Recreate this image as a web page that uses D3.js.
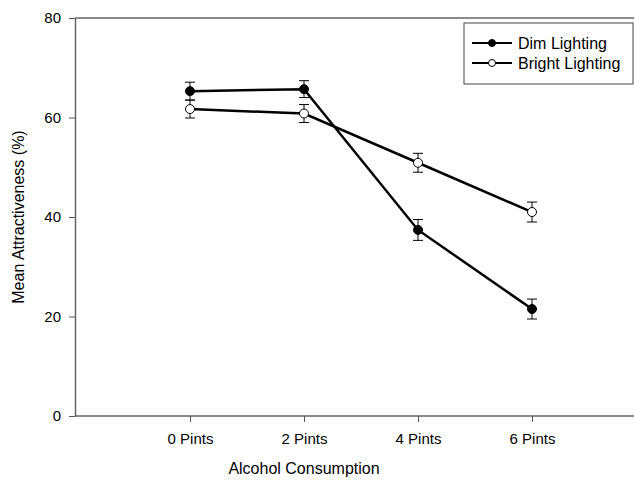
<!DOCTYPE html>
<html>
<head>
<meta charset="utf-8">
<script src="https://cdn.jsdelivr.net/npm/d3@7"></script>
<style>
	body { margin: 0; background: #fff; }
	text { font-family: "Liberation Sans", Arial, sans-serif; fill: #000; }
</style>
</head>
<body>
<script>

var categories = ['0 Pints', '2 Pints', '4 Pints', '6 Pints'];
var dimMean = [65.3, 65.7, 37.4, 21.5];
var dimErr = [1.8, 1.7, 2.1, 2.0];
var brightMean = [61.7, 60.8, 50.9, 41.0];
var brightErr = [1.8, 1.8, 1.9, 2.0];
var yTicks = [0, 20, 40, 60, 80];

(function() {

	var width = 635;
	var height = 481;
	var pLeft = 75, pRight = 634, pTop = 18, pBottom = 416;

	var svg = d3.select('body')
		.append('svg')
			.attr('width', width)
			.attr('height', height);

	var x = d3.scalePoint()
		.domain(categories)
		.range([190, 532]);

	var y = d3.scaleLinear()
		.domain([0, 80])
		.range([pBottom, pTop]);

	// frame top line
	svg.append('line')
		.attr('x1', pLeft).attr('x2', pRight)
		.attr('y1', pTop).attr('y2', pTop)
		.style('stroke', '#666')
		.style('stroke-width', 1.5);

	// y axis
	svg.append('g')
		.attr('transform', 'translate(' + pLeft + ',0)')
		.call(d3.axisLeft(y).tickValues(yTicks).tickSize(6).tickPadding(8).tickSizeOuter(0));

	// x axis
	var xAxis = svg.append('g')
		.attr('transform', 'translate(0,' + pBottom + ')')
		.call(d3.axisBottom(x).tickSize(6).tickPadding(11).tickSizeOuter(0));

	// stretch x axis line across full width
	xAxis.select('.domain').attr('d', 'M' + pLeft + ',0H' + pRight);

	svg.selectAll('.domain')
		.style('stroke', '#666')
		.style('stroke-width', 1.5);
	svg.selectAll('.tick line')
		.style('stroke', '#555');
	svg.selectAll('.tick text')
		.style('font-size', '15px')
		.style('font-family', '"Liberation Sans", Arial, sans-serif')
		.style('fill', '#000');

	// axis titles
	svg.append('text')
		.attr('x', 304)
		.attr('y', 474)
		.attr('text-anchor', 'middle')
		.style('font-size', '16px')
		.text('Alcohol Consumption');

	svg.append('text')
		.attr('transform', 'translate(24,' + ((pTop + pBottom) / 2) + ') rotate(-90)')
		.attr('text-anchor', 'middle')
		.style('font-size', '16px')
		.text('Mean Attractiveness (%)');

	var line = d3.line()
		.x(function(d, i) { return x(categories[i]); })
		.y(function(d) { return y(d); });

	function series(means, errs, fill) {
		var g = svg.append('g');

		g.append('path')
			.datum(means)
			.attr('d', line)
			.style('fill', 'none')
			.style('stroke', '#000')
			.style('stroke-width', 2.5);

		means.forEach(function(m, i) {
			var cx = x(categories[i]);
			var capW = 5;
			g.append('line')
				.attr('x1', cx).attr('x2', cx)
				.attr('y1', y(m - errs[i])).attr('y2', y(m + errs[i]))
				.style('stroke', '#000').style('stroke-width', 1);
			[m - errs[i], m + errs[i]].forEach(function(v) {
				g.append('line')
					.attr('x1', cx - capW).attr('x2', cx + capW)
					.attr('y1', y(v)).attr('y2', y(v))
					.style('stroke', '#000').style('stroke-width', 1);
			});
			g.append('circle')
				.attr('cx', cx)
				.attr('cy', y(m))
				.attr('r', 4.5)
				.style('fill', fill)
				.style('stroke', '#000')
				.style('stroke-width', 1);
		});
	}

	series(brightMean, brightErr, '#fff');
	series(dimMean, dimErr, '#000');

	// legend
	var legend = svg.append('g');
	legend.append('rect')
		.attr('x', 464).attr('y', 23)
		.attr('width', 169).attr('height', 61)
		.style('fill', '#fff')
		.style('stroke', '#444')
		.style('stroke-width', 1);

	var legendItems = [
		{ label: 'Dim Lighting', fill: '#000', y: 43 },
		{ label: 'Bright Lighting', fill: '#fff', y: 63 }
	];

	legendItems.forEach(function(d) {
		legend.append('line')
			.attr('x1', 472).attr('x2', 512)
			.attr('y1', d.y).attr('y2', d.y)
			.style('stroke', '#000').style('stroke-width', 2);
		legend.append('circle')
			.attr('cx', 492).attr('cy', d.y).attr('r', 3.5)
			.style('fill', d.fill).style('stroke', '#000').style('stroke-width', 1);
		legend.append('text')
			.attr('x', 518).attr('y', d.y + 5.5)
			.style('font-size', '16px')
			.text(d.label);
	});

})();

</script>
</body>
</html>
